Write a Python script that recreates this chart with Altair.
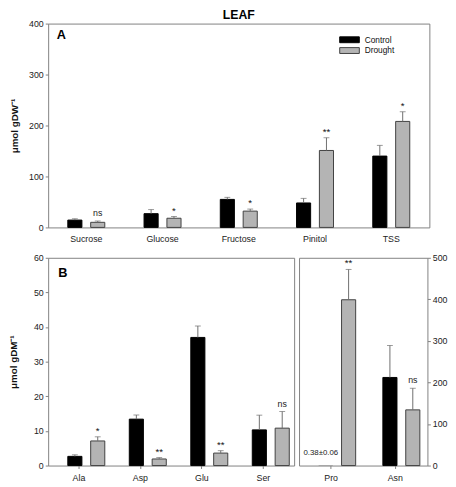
import altair as alt
import pandas as pd

treatments = ["Control", "Drought"]

sugars = ["Sucrose", "Glucose", "Fructose", "Pinitol", "TSS"]
sugar_control = [14.4, 27, 55, 48, 140]
sugar_control_err = [2.6, 8, 4, 9, 21]
sugar_drought = [10, 18, 32, 151, 208]
sugar_drought_err = [2.6, 3.5, 4, 25, 19]
sugar_sig = ["ns", "*", "*", "**", "*"]

amino_left = ["Ala", "Asp", "Glu", "Ser"]
amino_left_control = [2.65, 13.4, 37.0, 10.3]
amino_left_control_err = [0.45, 1.2, 3.3, 4.25]
amino_left_drought = [7.1, 1.9, 3.6, 10.8]
amino_left_drought_err = [1.2, 0.4, 0.7, 4.8]
amino_left_sig = ["*", "**", "**", "ns"]

amino_right = ["Pro", "Asn"]
amino_right_control = [0.38, 212]
amino_right_control_err = [0.06, 77]
amino_right_drought = [399, 134]
amino_right_drought_err = [73, 52]
amino_right_sig = ["**", "ns"]
pro_note = "0.38±0.06"

FONT = "Liberation Sans"
FRAME = "#808080"
ERR = "#6e6e6e"


def long_df(cats, c, ce, d, de, sig):
    rows = []
    for i, cat in enumerate(cats):
        rows.append(dict(category=cat, treatment="Control", value=c[i], top=c[i] + ce[i], sig=""))
        rows.append(dict(category=cat, treatment="Drought", value=d[i], top=d[i] + de[i], sig=sig[i]))
    return pd.DataFrame(rows)


def panel(df, cats, ymax, y_axis, width, height, x_ticks, x_label_pad,
          letter, letter_x, letter_y, legend=None, note=None):
    base = alt.Chart(df)
    x = alt.X("category:N", sort=cats,
              scale=alt.Scale(domain=cats, paddingInner=0, paddingOuter=0),
              axis=alt.Axis(title=None, labelAngle=0, ticks=x_ticks,
                            tickSize=3 if x_ticks else 0, labelPadding=x_label_pad,
                            domain=False, grid=False))
    xo = alt.XOffset("treatment:N",
                     scale=alt.Scale(domain=treatments, paddingInner=0.383, paddingOuter=0.858))
    yscale = alt.Scale(domain=[0, ymax], nice=False, zero=True)
    yv = alt.Y("value:Q", scale=yscale, axis=y_axis)
    yt = alt.Y("top:Q", scale=yscale, axis=y_axis)

    bars = base.mark_bar().encode(
        x=x, xOffset=xo, y=yv,
        color=alt.Color("treatment:N",
                        scale=alt.Scale(domain=treatments, range=["#000000", "#b4b4b4"]),
                        legend=legend),
        stroke=alt.Stroke("treatment:N",
                          scale=alt.Scale(domain=treatments, range=["#000000", "#404040"]),
                          legend=legend),
        strokeWidth=alt.condition("datum.value < 1", alt.value(0), alt.value(1)),
    )
    visible = base.transform_filter("datum.value >= 1")
    rules = visible.mark_rule(color=ERR, strokeWidth=1).encode(x=x, xOffset=xo, y=yv, y2="top:Q")
    caps = visible.mark_tick(color=ERR, size=6, thickness=1).encode(x=x, xOffset=xo, y=yt)
    stars = base.transform_filter("indexof(datum.sig, '*') >= 0").mark_text(
        fontSize=10, dy=-3, baseline="alphabetic", color="#111111", font=FONT
    ).encode(x=x, xOffset=xo, y=yt, text="sig:N")
    ns = base.transform_filter("datum.sig == 'ns'").mark_text(
        fontSize=9, dy=-5, baseline="alphabetic", color="#222222", font=FONT
    ).encode(x=x, xOffset=xo, y=yt, text="sig:N")
    letter_mark = alt.Chart(pd.DataFrame({"t": [letter]})).mark_text(
        fontSize=13, fontWeight="bold", align="left", baseline="top", font=FONT, color="#000000"
    ).encode(x=alt.value(letter_x), y=alt.value(letter_y), text="t:N")
    layers = [bars, rules, caps, stars, ns, letter_mark]
    if note is not None:
        note_layer = alt.Chart(note).mark_text(
            fontSize=8, dx=-5, dy=-13, baseline="middle", font=FONT, color="#222222"
        ).encode(x=x, xOffset=xo, y=yv, text="label:N")
        layers.append(note_layer)
    return alt.layer(*layers).properties(width=width, height=height)


sugar_df = long_df(sugars, sugar_control, sugar_control_err, sugar_drought, sugar_drought_err, sugar_sig)
left_df = long_df(amino_left, amino_left_control, amino_left_control_err,
                  amino_left_drought, amino_left_drought_err, amino_left_sig)
right_df = long_df(amino_right, amino_right_control, amino_right_control_err,
                   amino_right_drought, amino_right_drought_err, amino_right_sig)
note_df = pd.DataFrame({"category": ["Pro"], "treatment": ["Control"],
                        "value": [amino_right_control[0]], "label": [pro_note]})

legend = alt.Legend(title=None, orient="none", legendX=302, legendY=11,
                    symbolType="M-2,-0.6H2V0.6H-2Z", symbolSize=100,
                    symbolStrokeWidth=1, labelFontSize=8.5, labelOffset=10,
                    rowPadding=0, padding=0, labelFont=FONT, labelColor="#111111")

top_axis = alt.Axis(title="μmol gDW⁻¹", values=[0, 100, 200, 300, 400], orient="left",
                    tickSize=3, labelPadding=2, titlePadding=9, titleFontSize=10,
                    titleFontWeight="bold", grid=False, domain=False)
bl_axis = alt.Axis(title="μmol gDM⁻¹", values=[0, 10, 20, 30, 40, 50, 60], orient="left",
                   tickSize=3, labelPadding=2, titlePadding=15, titleFontSize=10,
                   titleFontWeight="bold", grid=False, domain=False)
br_axis = alt.Axis(title=None, values=[0, 100, 200, 300, 400, 500], orient="right",
                   tickSize=3, labelPadding=2, grid=False, domain=False)

top = panel(sugar_df, sugars, 400, top_axis, 389, 208, False, 7,
            "A", 8.7, 5.3, legend=legend).properties(
    title=alt.TitleParams("LEAF", fontSize=12.5, fontWeight="bold", offset=-2,
                          font=FONT, anchor="middle", color="#000000"))
bl = panel(left_df, amino_left, 60, bl_axis, 251, 212, True, 5, "B", 10.3, 10)
br = panel(right_df, amino_right, 500, br_axis, 131, 212, True, 5, "", 0, 0, note=note_df)

bottom = alt.hconcat(bl, br, spacing=3).resolve_scale(color="independent", stroke="independent")

chart = alt.vconcat(top, bottom, spacing=9).resolve_scale(
    color="independent", stroke="independent"
).properties(padding={"top": -4, "left": 0, "right": 0, "bottom": 0}).configure(font=FONT).configure_view(
    stroke=FRAME, strokeWidth=1
).configure_axis(
    labelFont=FONT, labelFontSize=9, labelColor="#222222", tickColor=FRAME,
    titleFont=FONT, titleColor="#111111"
)

chart.save("out.html", embed_options={"renderer": "svg", "actions": False})
